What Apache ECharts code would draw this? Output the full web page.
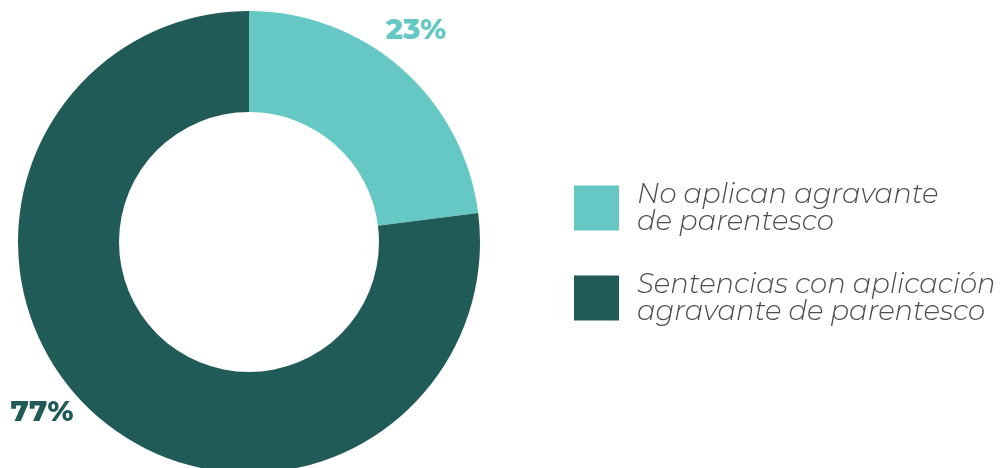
<!DOCTYPE html>
<html>
<head>
<meta charset="utf-8">
<script src="https://cdn.jsdelivr.net/npm/echarts@6/dist/echarts.min.js"></script>
<style>
  html, body { margin: 0; padding: 0; background: #ffffff; }
  #chart { width: 1000px; height: 468px; }
</style>
</head>
<body>
<div id="chart"></div>
<script>
// Share of sentences by application of the kinship aggravating circumstance
const categories = ['No aplican agravante\nde parentesco', 'Sentencias con aplicación\nagravante de parentesco'];
const values = [23, 77];
const colors = ['#65C8C4', '#215B58'];
// Where each percentage label sits (pixel coordinates of the label centre)
const labelSpots = [[416, 30], [42, 412]];

const chart = echarts.init(document.getElementById('chart'), null, { renderer: 'canvas' });

chart.setOption({
  animation: false,
  color: colors,
  legend: {
    orient: 'vertical',
    left: 574,
    top: 181,
    padding: 0,
    itemWidth: 45,
    itemHeight: 45,
    itemGap: 36,
    icon: 'rect',
    selectedMode: false,
    data: categories,
    textStyle: {
      fontFamily: 'Montserrat, "Open Sans", sans-serif',
      fontStyle: 'italic',
      fontWeight: 300,
      fontSize: 27.5,
      lineHeight: 27,
      color: '#4d4d4d',
      padding: [0, 0, 0, 13]
    }
  },
  series: [{
    type: 'pie',
    center: [249, 242],
    radius: [130, 231],
    startAngle: 90,
    clockwise: true,
    avoidLabelOverlap: false,
    label: {
      show: true,
      position: 'outside',
      formatter: '{d}%',
      fontFamily: 'Montserrat, "Noto Sans", sans-serif',
      fontWeight: 800,
      fontSize: 29
    },
    labelLine: { show: false },
    labelLayout: function (params) {
      const p = labelSpots[params.dataIndex];
      return { x: p[0], y: p[1], align: 'center', verticalAlign: 'middle' };
    },
    data: categories.map((name, i) => ({
      name: name,
      value: values[i],
      itemStyle: { color: colors[i] },
      label: { color: colors[i] }
    }))
  }]
});
</script>
</body>
</html>
